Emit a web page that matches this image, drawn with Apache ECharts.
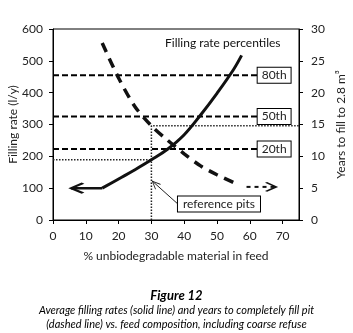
<!DOCTYPE html>
<html>
<head>
<meta charset="utf-8">
<script src="https://cdn.jsdelivr.net/npm/echarts@6/dist/echarts.min.js"></script>
<style>
  html, body { margin: 0; padding: 0; background: #fff; }
  #chart { width: 353px; height: 333px; }
</style>
</head>
<body>
<div id="chart"></div>
<script>
// filling rate (l/y) vs % unbiodegradable material
const ratePct = [15, 20, 25, 30, 35, 40, 45, 50, 55, 57.5];
const fillingRate = [100, 129, 158, 189, 223, 268, 330, 398, 472, 517];

// years to fill 2.8 m3
const yearsPct = [15, 20, 25, 30, 35, 40, 45, 50, 55, 56.5];
const yearsToFill = [27.8, 22.3, 17.8, 14.8, 12.5, 10.4, 8.5, 7.1, 5.9, 5.5];

// percentile lines
const percentileNames = ["80th", "50th", "20th"];
const percentileRates = [455, 325, 223];
const percentileEndPct = 62.4;

// reference pits
const refPct = 30;
const refRate = 189;
const refYears = 14.8;
const refArrowFrom = [38.1, 50];
const refArrowTo = [30.3, 122];

// arrows that continue the curves
const rateArrow = [[15, 100], [5.5, 100]];
const yearsArrow = [[59, 5.2], [68, 5.2]];

const xTicks = [0, 10, 20, 30, 40, 50, 60, 70];

const FONT = "Lato";
const chevron = "path://M5,-10 M0,10 L5,0 L10,10";
const NOFILL = "rgba(0,0,0,0)";

const chart = echarts.init(document.getElementById("chart"));

const pairs = (xs, ys) => xs.map((x, i) => [x, ys[i]]);

function arrowData(pts, rotate, size, width) {
  return [
    { value: pts[0], symbol: "none" },
    {
      value: pts[1], symbol: chevron, symbolSize: size, symbolRotate: rotate,
      itemStyle: { color: NOFILL, borderColor: "#111", borderWidth: width },
    },
  ];
}

const percentileSeries = percentileNames.map((name, i) => ({
  type: "line",
  yAxisIndex: 0,
  silent: true,
  symbol: "none",
  data: [[0, percentileRates[i]], [percentileEndPct, percentileRates[i]]],
  lineStyle: { color: "#000", width: 2, type: [6, 3] },
  endLabel: {
    show: true,
    formatter: name,
    distance: 0,
    fontFamily: FONT,
    fontSize: 12,
    color: "#222",
    borderColor: "#000",
    borderWidth: 1,
    backgroundColor: "#fff",
    padding: [2, 4, 1, 4],
  },
}));

const option = {
  animation: false,
  backgroundColor: "#fff",
  grid: {
    left: 53, top: 29, right: 54, bottom: 113,
    outerBoundsMode: "none",
    show: true, borderColor: "#000", borderWidth: 1,
  },
  title: [
    {
      text: "Figure 12", left: "center", top: 284,
      textStyle: { fontFamily: FONT, fontSize: 13, fontWeight: "bold", fontStyle: "italic", color: "#000" },
    },
    {
      text: "Average filling rates (solid line) and years to completely fill pit",
      left: "center", top: 300,
      textStyle: { fontFamily: FONT, fontSize: 11, fontWeight: "normal", fontStyle: "italic", color: "#000" },
    },
    {
      text: "(dashed line) vs. feed composition, including coarse refuse",
      left: "center", top: 314,
      textStyle: { fontFamily: FONT, fontSize: 11, fontWeight: "normal", fontStyle: "italic", color: "#000" },
    },
  ],
  graphic: [
    {
      type: "text", left: 165, top: 37,
      style: { text: "Filling rate percentiles", font: "12px " + FONT, fill: "#111" },
    },
  ],
  xAxis: {
    type: "value",
    min: 0, max: 75, interval: 10,
    name: "% unbiodegradable material in feed",
    nameLocation: "middle", nameGap: 30,
    nameTextStyle: { fontFamily: FONT, fontSize: 12, color: "#222" },
    axisLine: { lineStyle: { color: "#000", width: 1 } },
    axisTick: { show: true, length: 4, customValues: xTicks, lineStyle: { color: "#000" } },
    axisLabel: { customValues: xTicks, margin: 10, fontFamily: FONT, fontSize: 12, color: "#222" },
    splitLine: { show: false },
  },
  yAxis: [
    {
      type: "value",
      min: 0, max: 600, interval: 100,
      name: "Filling rate (l/y)",
      nameLocation: "middle", nameGap: 40, nameRotate: 90, nameMoveOverlap: false,
      nameTextStyle: { fontFamily: FONT, fontSize: 12, color: "#222", verticalAlign: "middle" },
      axisLine: { show: true, lineStyle: { color: "#000", width: 1 } },
      axisTick: { show: true, length: 4, lineStyle: { color: "#000" } },
      axisLabel: { margin: 10, fontFamily: FONT, fontSize: 12, color: "#222" },
      splitLine: { show: false },
    },
    {
      type: "value",
      position: "right",
      min: 0, max: 30, interval: 5,
      name: "Years to fill to 2.8 m³",
      nameLocation: "middle", nameGap: 42, nameRotate: 90, nameMoveOverlap: false,
      nameTextStyle: { fontFamily: FONT, fontSize: 12, color: "#222", verticalAlign: "middle" },
      axisLine: { show: true, lineStyle: { color: "#000", width: 1 } },
      axisTick: { show: true, length: 4, lineStyle: { color: "#000" } },
      axisLabel: { margin: 12, fontFamily: FONT, fontSize: 12, color: "#222" },
      splitLine: { show: false },
    },
  ],
  series: [
    ...percentileSeries,
    {
      // dotted reference lines
      type: "line", yAxisIndex: 0, silent: true, symbol: "none",
      data: [[0, refRate], [refPct, refRate]],
      lineStyle: { color: "#222", width: 1.5, type: [1.5, 1.5] },
    },
    {
      type: "line", yAxisIndex: 1, silent: true, symbol: "none",
      data: [[refPct, 0], [refPct, refYears], [75, refYears]],
      lineStyle: { color: "#222", width: 1.5, type: [1.5, 1.5] },
    },
    {
      name: "Filling rate",
      type: "line", yAxisIndex: 0, silent: true, symbol: "none", smooth: 0.4,
      data: pairs(ratePct, fillingRate),
      lineStyle: { color: "#111", width: 3 },
    },
    {
      name: "Years to fill",
      type: "line", yAxisIndex: 1, silent: true, symbol: "none", smooth: 0.3,
      data: pairs(yearsPct, yearsToFill),
      lineStyle: { color: "#111", width: 3.5, type: [10, 7] },
    },
    {
      type: "line", yAxisIndex: 0, silent: true, showSymbol: true,
      data: arrowData(rateArrow, 90, [10, 24], 2.5),
      lineStyle: { color: "#111", width: 2.5 },
    },
    {
      type: "line", yAxisIndex: 1, silent: true, showSymbol: true,
      data: arrowData(yearsArrow, -90, [9, 20], 2),
      lineStyle: { color: "#111", width: 2, type: [4, 4] },
    },
    {
      type: "line", yAxisIndex: 0, silent: true, showSymbol: true,
      data: [
        {
          value: refArrowFrom, symbol: "circle", symbolSize: 0,
          label: {
            show: true, position: "right", distance: 0,
            formatter: "reference pits",
            fontFamily: FONT, fontSize: 12, color: "#222",
            borderColor: "#000", borderWidth: 1, backgroundColor: "#fff",
            padding: [2, 5, 1, 5],
          },
        },
        {
          value: refArrowTo, symbol: chevron, symbolSize: [7, 16], symbolRotate: 45,
          itemStyle: { color: NOFILL, borderColor: "#222", borderWidth: 1 },
        },
      ],
      lineStyle: { color: "#222", width: 1 },
    },
  ],
};

chart.setOption(option);
</script>
</body>
</html>
